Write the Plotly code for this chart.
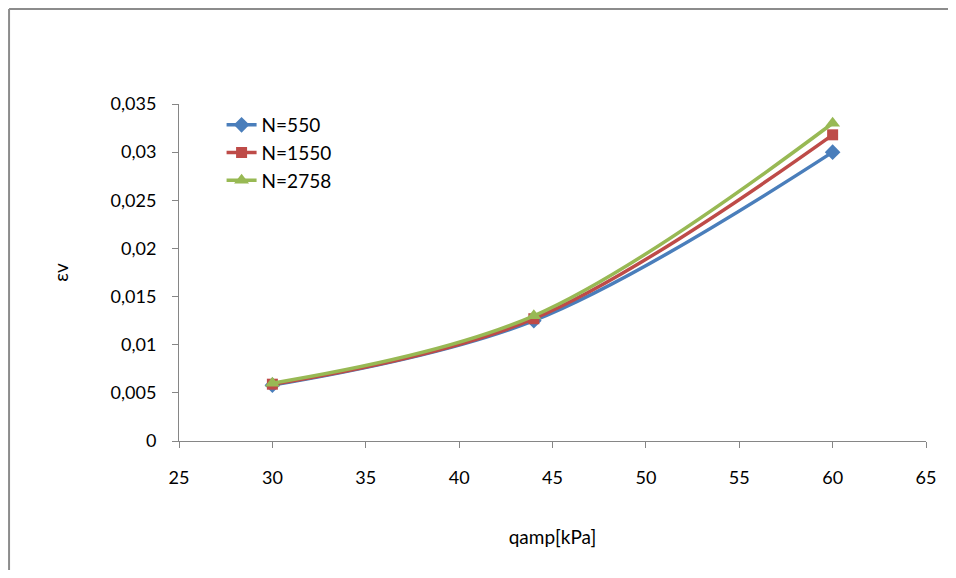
import plotly.graph_objects as go

q_amp = [30, 44, 60]
eps_550 = [0.0058, 0.0125, 0.0300]
eps_1550 = [0.0059, 0.0127, 0.0318]
eps_2758 = [0.0060, 0.0130, 0.0330]
series_names = ["N=550", "N=1550", "N=2758"]

y_tickvals = [0, 0.005, 0.01, 0.015, 0.02, 0.025, 0.03, 0.035]
y_ticktext = ["0", "0,005", "0,01", "0,015", "0,02", "0,025", "0,03", "0,035"]
x_tickvals = [25, 30, 35, 40, 45, 50, 55, 60, 65]

colors = ["#4A7EBB", "#BE4B48", "#98B954"]
symbols = ["diamond", "square", "triangle-up"]
sizes = [12, 11, 13]

FONT = "Lato, Carlito, 'Liberation Sans', sans-serif"

fig = go.Figure()
for name, ys, c, s, sz in zip(series_names, [eps_550, eps_1550, eps_2758], colors, symbols, sizes):
    fig.add_trace(go.Scatter(
        x=q_amp, y=ys, name=name, mode="lines+markers",
        line=dict(color=c, width=3.5, shape="spline", smoothing=1.0),
        marker=dict(symbol=s, size=sz, color=c),
    ))

axis_common = dict(
    showgrid=False, zeroline=False, showline=True, linecolor="#868686", linewidth=1,
    ticks="outside", ticklen=6, tickcolor="#868686",
    tickfont=dict(family=FONT, size=18, color="black"),
)

frame_style = dict(color="#8c8c8c", width=2)

fig.update_layout(
    width=940, height=562,
    margin=dict(l=171, r=22, t=96, b=129),
    paper_bgcolor="white", plot_bgcolor="white",
    font=dict(family=FONT, size=18, color="black"),
    xaxis=dict(range=[25, 65], tickvals=x_tickvals, ticklabelstandoff=14,
               title=dict(text="qamp[kPa]", standoff=44, font=dict(family=FONT, size=19)),
               **axis_common),
    yaxis=dict(range=[0, 0.035], tickvals=y_tickvals, ticktext=y_ticktext, ticklabelstandoff=12,
               title=dict(text="εv", standoff=36, font=dict(family=FONT, size=19)),
               **axis_common),
    legend=dict(x=0.057, y=0.994, xanchor="left", yanchor="top", bgcolor="rgba(0,0,0,0)",
                font=dict(family=FONT, size=19), tracegroupgap=0),
    showlegend=True,
    shapes=[
        dict(type="line", xref="paper", yref="paper", x0=-0.2275, y0=1.282, x1=1.1, y1=1.282,
             line=frame_style, layer="below"),
        dict(type="line", xref="paper", yref="paper", x0=-0.2275, y0=-0.45, x1=-0.2275, y1=1.282,
             line=frame_style, layer="below"),
    ],
)

fig.write_html("out.html")
